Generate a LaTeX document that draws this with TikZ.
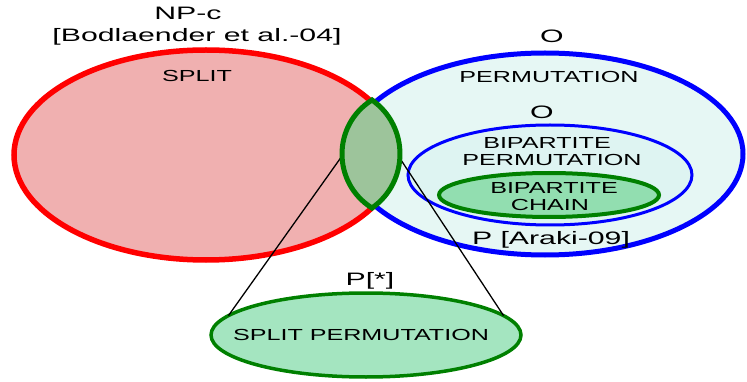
\documentclass[tikz,border=0pt]{standalone}
\usepackage{fontspec}
\setmainfont{Liberation Sans}
\usepackage{graphicx}
\usetikzlibrary{shapes.geometric}

\definecolor{splitfill}{RGB}{240,176,176}
\definecolor{permfill}{RGB}{230,247,244}
\definecolor{bipfill}{RGB}{222,244,242}
\definecolor{chainfill}{RGB}{146,222,176}
\definecolor{lensfill}{RGB}{157,196,155}
\definecolor{spfill}{RGB}{164,229,192}
\definecolor{darkgreen}{RGB}{0,128,0}

% wide sans labels
\newcommand{\widesmall}[1]{\fontsize{16}{19}\selectfont\scalebox{1.57}[1]{#1}}
\newcommand{\widebig}[1]{\fontsize{18}{21}\selectfont\scalebox{1.68}[1]{#1}}

\tikzset{
  classset/.style={ellipse, draw, inner sep=0pt, outer sep=0pt},
  lbl/.style={anchor=base, inner sep=0pt, text=black}
}

\begin{document}
\begin{tikzpicture}[x=1pt, y=-1pt]
  \useasboundingbox (0,0) rectangle (747,382);

  % the two large classes
  \node[classset, draw=red, fill=splitfill, line width=5.5pt,
        minimum width=384pt, minimum height=210pt] (split) at (206,155) {};
  \node[classset, draw=blue, fill=permfill, line width=5pt,
        minimum width=396pt, minimum height=202pt] (perm) at (545,154) {};

  % nested subclasses of permutation graphs
  \node[classset, draw=blue, fill=bipfill, line width=3pt,
        minimum width=284pt, minimum height=100pt] (bip) at (550,175) {};
  \node[classset, draw=darkgreen, fill=chainfill, line width=4pt,
        minimum width=220pt, minimum height=44pt] (chain) at (549,195) {};

  % intersection lens corners
  \coordinate (lensT) at (372,100);
  \coordinate (lensB) at (372,208);
  \coordinate (lensW) at (342,156);
  \coordinate (lensE) at (401,160);

  % split permutation class with its zoom lines
  \node[classset, draw=darkgreen, fill=spfill, line width=3.5pt,
        minimum width=310pt, minimum height=84pt] (splitperm) at (366,335) {};
  \draw[line width=1.3pt] (lensW) -- (splitperm.172);
  \draw[line width=1.3pt] (lensE) -- (splitperm.8);

  \draw[darkgreen, fill=lensfill, line width=5pt, line join=miter]
    (lensT) .. controls (332,125) and (332,183) .. (lensB)
            .. controls (409.3,181.7) and (409.3,126.3) .. (lensT) -- cycle;

  % labels
  \node[lbl] (npc) at (188,20) {\widebig{NP-c}};
  \node[lbl] (bod) at (197,42) {\widebig{[Bodlaender et al.-04]}};
  \node[lbl] (tsplit) at (197,82) {\widesmall{SPLIT}};
  \node[lbl] (o1) at (552,43) {\widebig{O}};
  \node[lbl] (tperm) at (549,83) {\widesmall{PERMUTATION}};
  \node[lbl] (o2) at (542,119) {\widebig{O}};
  \node[lbl] (tbip1) at (547,149) {\widesmall{BIPARTITE}};
  \node[lbl] (tbip2) at (552,166) {\widesmall{PERMUTATION}};
  \node[lbl] (tch1) at (554,194) {\widesmall{BIPARTITE}};
  \node[lbl] (tch2) at (550,211) {\widesmall{CHAIN}};
  \node[lbl] (araki) at (551,244) {\widebig{P [Araki-09]}};
  \node[lbl] (pstar) at (370,285) {\widebig{P[*]}};
  \node[lbl] (tsp) at (361,340) {\widesmall{SPLIT PERMUTATION}};
\end{tikzpicture}
\end{document}
